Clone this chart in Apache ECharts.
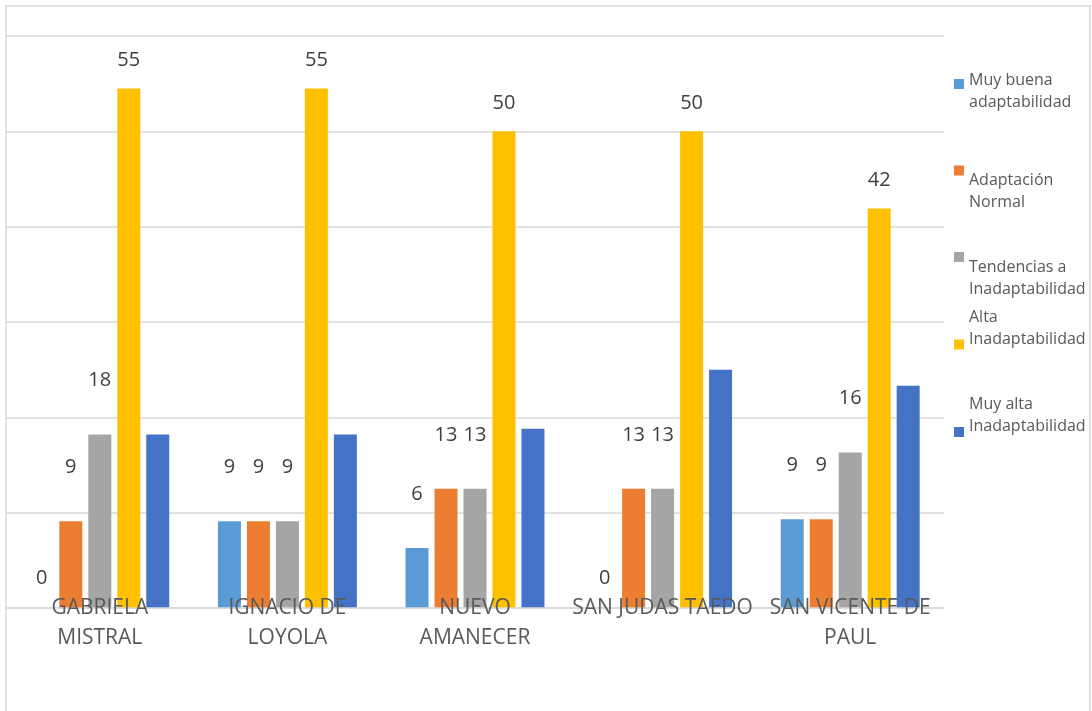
<!DOCTYPE html>
<html>
<head>
<meta charset="utf-8">
<script src="https://cdn.jsdelivr.net/npm/echarts@6/dist/echarts.min.js"></script>
<style>
html, body { margin: 0; padding: 0; background: #fff; }
#chart { width: 1092px; height: 711px; }
</style>
</head>
<body>
<div id="chart"></div>
<script>
// categorias (con salto de linea como en el original)
var colegios = ['GABRIELA\nMISTRAL', 'IGNACIO DE\nLOYOLA', 'NUEVO\nAMANECER', 'SAN JUDAS TAEDO', 'SAN VICENTE DE\nPAUL'];

// porcentajes por nivel
var muyBuena   = [0, 9.1, 6.3, 0, 9.3];
var normal     = [9.1, 9.1, 12.5, 12.5, 9.3];
var tendencias = [18.2, 9.1, 12.5, 12.5, 16.3];
var alta       = [54.5, 54.5, 50, 50, 41.9];
var muyAlta    = [18.2, 18.2, 18.8, 25, 23.3];

var nombres = ['Muy buena adaptabilidad', 'Adaptación Normal', 'Tendencias a Inadaptabilidad', 'Alta Inadaptabilidad', 'Muy alta Inadaptabilidad'];
var colores = ['#5B9BD5', '#ED7D31', '#A5A5A5', '#FFC000', '#4472C4'];

var fuente = '"Open Sans", "DejaVu Sans", sans-serif';

var myChart = echarts.init(document.getElementById('chart'));

function etiqueta(dist) {
    return {
        show: true,
        position: 'top',
        distance: dist,
        color: '#404040',
        fontSize: 20,
        lineHeight: 20,
        fontFamily: fuente,
        formatter: function (p) { return Math.round(p.value); }
    };
}

// los ceros llevan la etiqueta mas cerca de la base
function conCeros(arr) {
    return arr.map(function (v) {
        if (v === 0) return { value: 0, label: { distance: 20 } };
        return v;
    });
}

function serie(i, datos, lbl) {
    var s = {
        name: nombres[i],
        type: 'bar',
        barWidth: 23,
        barGap: '26%',
        itemStyle: { color: colores[i] },
        data: datos
    };
    s.label = lbl ? lbl : { show: false };
    return s;
}

// leyendas separadas; un renglon vacio arriba o abajo desplaza el texto respecto al cuadro
var leyendaPos = [
    { top: 55, arriba: 14, abajo: 0 },
    { top: 128, arriba: 41, abajo: 0 },
    { top: 214, arriba: 42, abajo: 0 },
    { top: 306, arriba: 0, abajo: 33 },
    { top: 393, arriba: 0, abajo: 34 }
];
var leyendas = leyendaPos.map(function (p, i) {
    return {
        data: [nombres[i]],
        orient: 'vertical',
        left: 954,
        top: p.top,
        padding: 0,
        itemWidth: 10,
        itemHeight: 10,
        itemGap: 0,
        icon: 'rect',
        selectedMode: false,
        textStyle: {
            color: '#595959',
            fontSize: 16,
            lineHeight: 22,
            fontFamily: fuente,
            rich: {
                t: { color: '#595959', fontSize: 16, lineHeight: 22, fontFamily: fuente },
                up: { fontSize: 2, lineHeight: p.arriba },
                dn: { fontSize: 2, lineHeight: p.abajo }
            }
        },
        formatter: function (name) {
            var k = name.lastIndexOf(' ');
            var txt = '{t|' + name.substring(0, k) + '}\n{t|' + name.substring(k + 1) + '}';
            if (p.arriba) txt = '{up| }\n' + txt;
            if (p.abajo) txt = txt + '\n{dn| }';
            return txt;
        }
    };
});

var option = {
    backgroundColor: '#fff',
    animation: false,
    graphic: [{
        type: 'rect',
        shape: { x: 6, y: 6, width: 1084, height: 720 },
        style: { fill: 'none', stroke: '#d9d9d9', lineWidth: 1.5 },
        silent: true
    }],
    legend: leyendas,
    grid: { left: 6, right: 148, top: 36, bottom: 103 },
    xAxis: {
        type: 'category',
        data: colegios,
        axisLine: { lineStyle: { color: '#d9d9d9', width: 1.5 } },
        axisTick: { show: false },
        axisLabel: {
            margin: -15,
            color: '#595959',
            fontSize: 21,
            lineHeight: 30,
            fontFamily: fuente,
            interval: 0
        },
        z: 10
    },
    yAxis: {
        type: 'value',
        min: 0,
        max: 60,
        interval: 10,
        axisLabel: { show: false },
        axisLine: { show: false },
        axisTick: { show: false },
        splitLine: { lineStyle: { color: '#d9d9d9', width: 1.5 } }
    },
    series: [
        serie(0, conCeros(muyBuena), etiqueta(44)),
        serie(1, normal, etiqueta(44)),
        serie(2, tendencias, etiqueta(44)),
        serie(3, alta, etiqueta(18)),
        serie(4, muyAlta, null)
    ]
};

myChart.setOption(option);
window.onresize = function () { myChart.resize(); };
</script>
</body>
</html>
